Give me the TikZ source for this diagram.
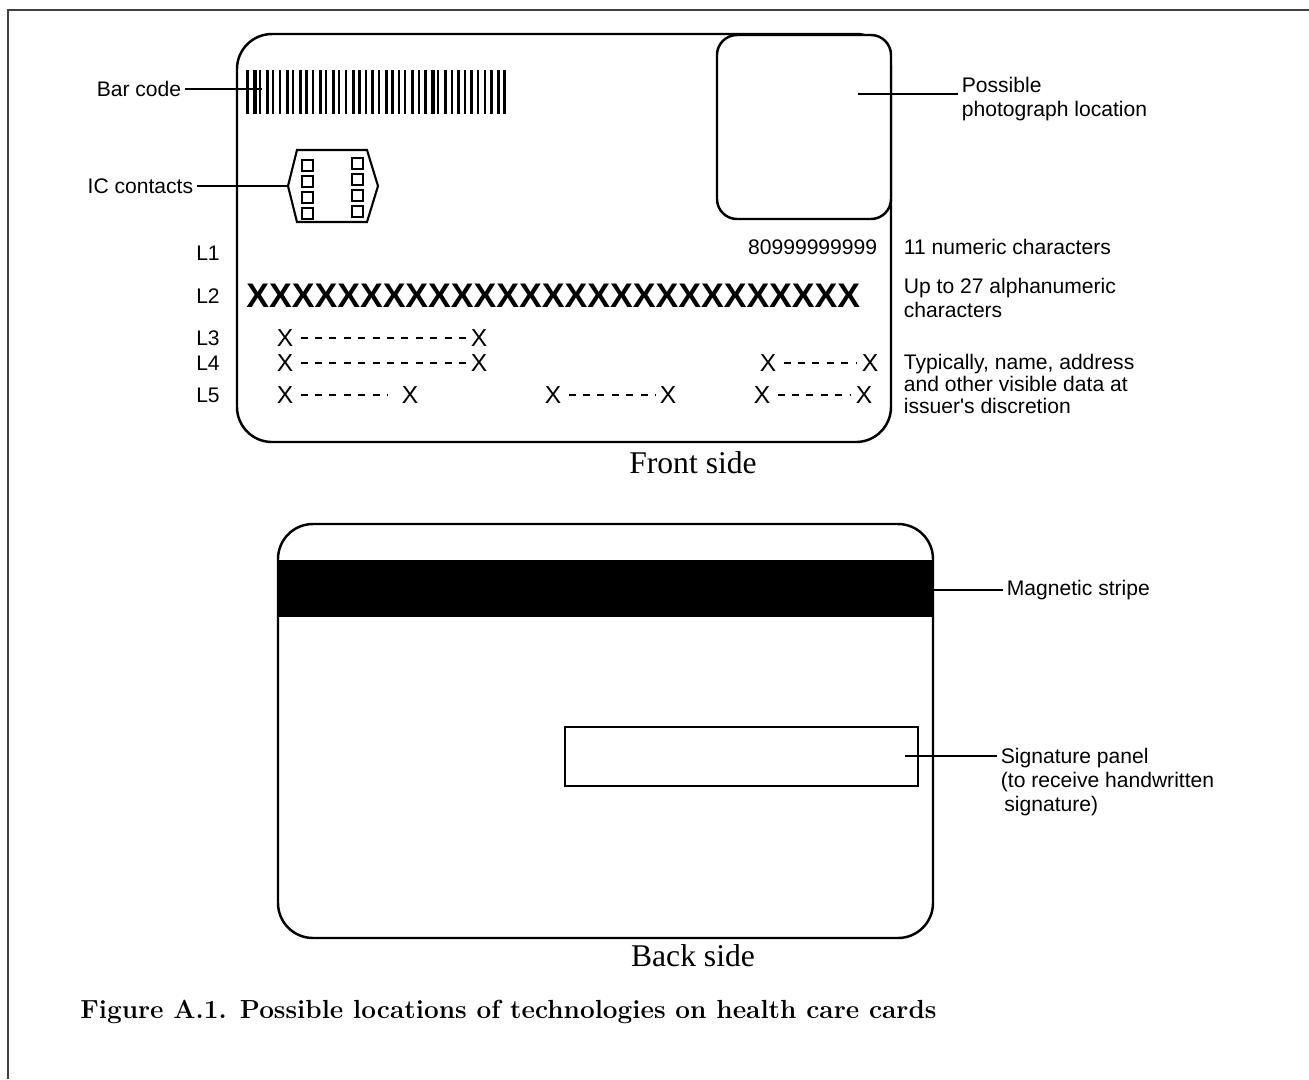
\documentclass[tikz,border=0pt]{standalone}
\usepackage{fontspec}
\newfontfamily\arialfont{Liberation Sans}
\newfontfamily\timesfont{Liberation Serif}
\usetikzlibrary{positioning,calc}

\begin{document}
\begin{tikzpicture}[
    x=0.02cm, y=-0.02cm,
    card/.style={line width=1.4pt, rounded corners=0.7cm},
    lbl/.style={font=\arialfont\fontsize{12}{13.5}\selectfont, inner sep=2pt, align=left},
    ptr/.style={line width=1pt},
    xchar/.style={font=\arialfont\fontsize{14}{16}\selectfont, inner sep=1pt},
    dashline/.style={line width=1pt, dash pattern=on 4pt off 4.2pt, shorten <=3pt, shorten >=1.5pt},
    sidelbl/.style={font=\timesfont\fontsize{18}{20}\selectfont}
]
\useasboundingbox (0,0) rectangle (1309,1079);

% Frame
\draw[line width=0.8pt, black!75] (8,1079) -- (8,10) -- (1309,10);

% Front side
\draw[card] (237,34) rectangle (891,442);
\draw[line width=1.4pt, rounded corners=0.4cm, fill=white] (717,35) rectangle (891,219);
\coordinate (photopt) at (858,94);

% Bar code
\foreach \bw [count=\i] in {3,4,2,3,2,2,3,2,3,3,2,3,2,3,2,2,3,3,2,3,2,3,3,2,2,3,2,3,4,2,3,2,3,2,3,2,2,3,3,3}
    \fill (239.4+6.6*\i,70) rectangle ++(\bw,44);
\coordinate (barpt) at (262,89);

% IC contacts
\draw[line width=1.2pt] (297,150) -- (367,150) -- (378,186) -- (367,222) -- (297,222) -- (288,186) coordinate (chipW) -- cycle;
\foreach \cy in {160,176,192,208} {
    \draw[line width=1pt] (302,\cy) rectangle ++(11,11);
    \draw[line width=1pt] (352,\cy-2) rectangle ++(11,11);
}

% Lines L1 to L5
\node[lbl] (L1) at (208,253) {L1};
\node[lbl] (L2) at (208,296) {L2};
\node[lbl] (L3) at (208,338) {L3};
\node[lbl] (L4) at (208,363) {L4};
\node[lbl] (L5) at (208,395) {L5};

\node[lbl, anchor=east] (num) at (881,247) {80999999999};
\node[anchor=west, inner sep=0pt, font=\arialfont\bfseries\fontsize{19.4}{22}\selectfont] (alnum) at (246,296) {XXXXXXXXXXXXXXXXXXXXXXXXXXX};

\node[xchar] (l3a) at (285,338) {X};
\node[xchar] (l3b) at (479,338) {X};
\node[xchar] (l4a) at (285,363) {X};
\node[xchar] (l4b) at (479,363) {X};
\node[xchar] (l4c) at (768,363) {X};
\node[xchar] (l4d) at (870,363) {X};
\node[xchar] (l5a) at (285,395) {X};
\node[xchar] (l5b) at (410,395) {X};
\node[xchar] (l5c) at (553,395) {X};
\node[xchar] (l5d) at (668,395) {X};
\node[xchar] (l5e) at (762,395) {X};
\node[xchar] (l5f) at (864,395) {X};

\draw[dashline] (l3a) -- (l3b);
\draw[dashline] (l4a) -- (l4b);
\draw[dashline] (l4c) -- (l4d);
\draw[dashline, shorten >=7pt] (l5a) -- (l5b);
\draw[dashline] (l5c) -- (l5d);
\draw[dashline] (l5e) -- (l5f);

% Labels
\node[lbl, anchor=east] (barlbl) at (185,89) {Bar code};
\node[lbl, anchor=east] (iclbl) at (197,186) {IC contacts};
\node[lbl, anchor=west] (photolbl) at (958,99) {Possible\\photograph location};
\node[lbl, anchor=west] (numlbl) at (900,247) {11 numeric characters};
\node[lbl, anchor=west] (alnumlbl) at (900,298) {Up to 27 alphanumeric\\characters};
\node[lbl, anchor=west, font=\arialfont\fontsize{12}{12.5}\selectfont] (datalbl) at (900,384) {Typically, name, address\\and other visible data at\\issuer's discretion};

\draw[ptr] (barlbl) -- (barpt);
\draw[ptr] (iclbl) -- (chipW);
\draw[ptr] (photopt) -- (photopt -| photolbl.west);

\node[sidelbl] (front) at (693,463) {Front side};

% Back side
\draw[card] (278,524) rectangle (933,938);
\fill (278,560) rectangle (933,617);
\draw[line width=1.3pt] (565,727) rectangle (918,786);
\coordinate (stripept) at (933,590);
\coordinate (panelpt) at (905,756);

\node[lbl, anchor=west] (stripelbl) at (1003,590) {Magnetic stripe};
\node[lbl, anchor=west] (panellbl) at (997,782) {Signature panel\\(to receive handwritten\\\hspace*{2pt}signature)};

\draw[ptr] (stripept) -- (stripelbl);
\draw[ptr] (panelpt) -- (panelpt -| panellbl.west);

\node[sidelbl] (back) at (693,956) {Back side};

% Caption
\node[anchor=west, inner sep=0pt, font=\bfseries\fontsize{14.9}{17}\selectfont] (caption) at (80,1012) {Figure A.1. Possible locations of technologies on health care cards};

\end{tikzpicture}
\end{document}
